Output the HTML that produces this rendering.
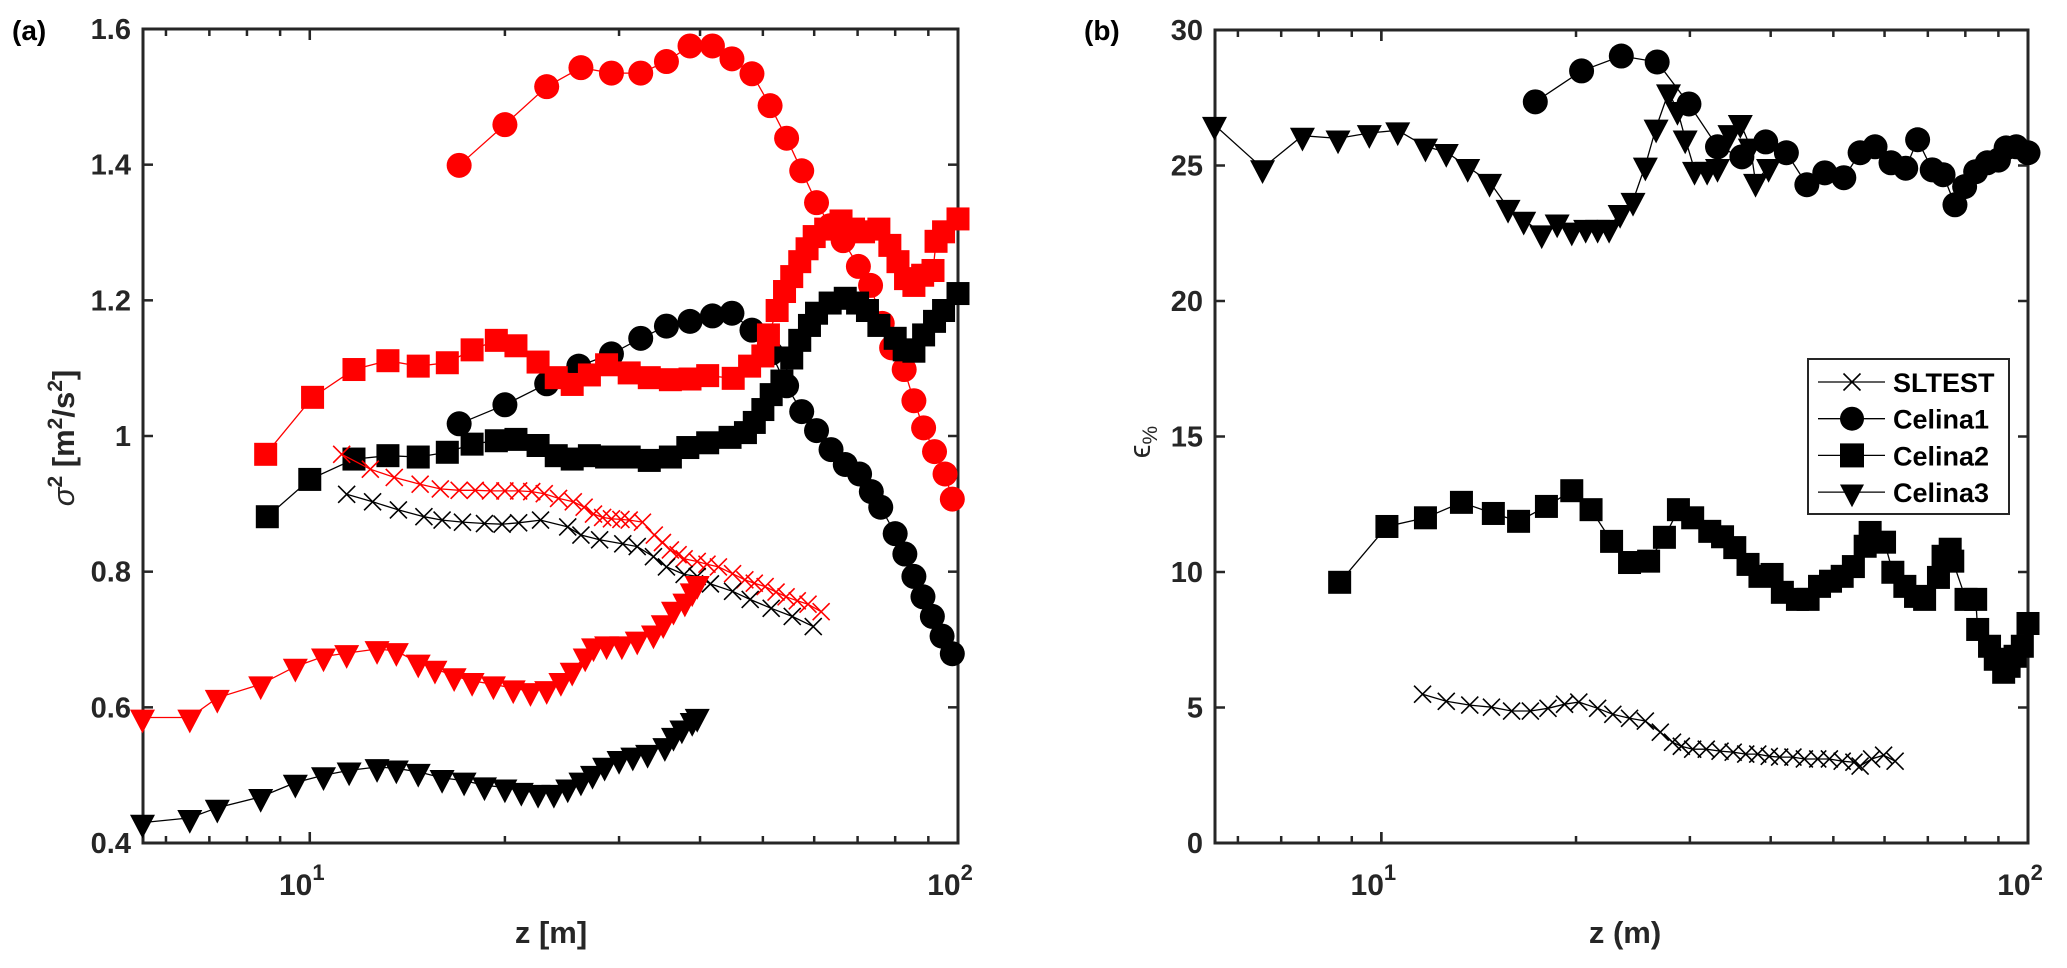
<!DOCTYPE html>
<html><head><meta charset="utf-8">
<style>
html,body{margin:0;padding:0;background:#fff;}
svg{display:block;font-family:"Liberation Sans",sans-serif;}
</style></head>
<body>
<svg id="fig" width="2067" height="968" viewBox="0 0 2067 968" xmlns="http://www.w3.org/2000/svg">
<g id="panelA"></g>
<g id="panelB"></g>
</svg>
<script>
// ---- Panel (a) data ----
const aRedCircZ = [17.0,20.0,23.2,26.2,29.2,32.4,35.5,38.6,41.8,44.8,48.1,51.3,54.4,57.4,60.5,63.5,66.5,70.2,73.3,76.4,79,82.6,85.5,88.5,92,95.5,98];
const aRedCircV = [1.399,1.459,1.515,1.543,1.535,1.535,1.552,1.575,1.575,1.556,1.534,1.487,1.439,1.391,1.344,1.31,1.288,1.250,1.222,1.166,1.13,1.098,1.052,1.012,0.977,0.944,0.907];
const aBlkCircZ = [17.0,20.0,23.2,26.0,29.2,32.4,35.5,38.6,41.8,44.8,48.1,51.5,54.4,57.4,60.5,63.7,67,70.5,73.5,76,80,82.8,85.5,88.3,91.3,94.5,98];
const aBlkCircV = [1.018,1.046,1.077,1.103,1.121,1.144,1.162,1.169,1.177,1.181,1.156,1.122,1.074,1.036,1.008,0.98,0.958,0.944,0.918,0.895,0.856,0.826,0.793,0.763,0.734,0.705,0.679];
const aRedSqZ = [8.55,10.1,11.7,13.2,14.7,16.3,17.8,19.4,20.8,22.5,24,25.4,27,28.7,31.1,33.4,36,38.6,41.1,45,47.7,50,51,52.6,54,55.4,57,58.5,60,62.5,66,69,71.5,75.5,78.5,80.8,83,85.5,88.2,91.5,92.5,95,100];
const aRedSqV = [0.973,1.057,1.098,1.111,1.103,1.108,1.127,1.141,1.133,1.109,1.086,1.076,1.090,1.105,1.093,1.086,1.083,1.084,1.089,1.085,1.103,1.118,1.149,1.185,1.213,1.235,1.257,1.276,1.294,1.305,1.317,1.305,1.301,1.305,1.281,1.257,1.232,1.222,1.237,1.244,1.287,1.301,1.320];
const aBlkSqZ = [8.6,10.0,11.7,13.2,14.7,16.3,17.8,19.4,20.8,22.5,24,25.4,27,28.7,31.1,33.4,36,38.3,41.1,44.5,47,48.5,50,51.5,53.5,55.4,57,59,60.5,63.5,67,70,72.5,75.5,80,82.6,85.5,88.5,92,95,100];
const aBlkSqV = [0.881,0.936,0.966,0.971,0.969,0.976,0.988,0.993,0.995,0.986,0.971,0.966,0.971,0.969,0.969,0.964,0.969,0.983,0.990,0.998,1.005,1.020,1.039,1.061,1.081,1.115,1.141,1.163,1.181,1.196,1.203,1.196,1.185,1.163,1.144,1.127,1.125,1.149,1.169,1.185,1.210];
const aRedXZ = [11.2,12.4,13.5,14.8,15.9,17,18,19,20,21,22,23,24.2,25.5,26.5,27.4,28.3,29.2,30.2,31.1,32.6,34,35,36,37,37.8,39.6,41,42.7,44.9,46.9,48.5,50.4,52.4,54.3,56.5,58.7,61.5];
const aRedXV = [0.973,0.951,0.939,0.929,0.922,0.920,0.920,0.919,0.919,0.919,0.918,0.915,0.908,0.903,0.895,0.885,0.880,0.878,0.877,0.876,0.873,0.854,0.843,0.832,0.825,0.819,0.815,0.811,0.807,0.797,0.788,0.783,0.778,0.770,0.763,0.757,0.752,0.741];
const aBlkXZ = [11.4,12.5,13.7,15,16,17.2,18.6,19.8,21,22.7,25,26.2,28,30.4,32,33.9,35.5,37.8,39.6,41.5,44.9,47.8,51.5,55.5,59.8];
const aBlkXV = [0.914,0.903,0.891,0.881,0.876,0.873,0.871,0.870,0.872,0.876,0.866,0.854,0.847,0.841,0.837,0.822,0.807,0.796,0.793,0.782,0.771,0.759,0.746,0.734,0.719];
const aRedTriZ = [5.52,6.53,7.2,8.4,9.5,10.5,11.4,12.7,13.6,14.7,15.6,16.7,17.8,19.2,20.6,21.9,23.2,24.4,25.4,26.6,27.4,28.7,30.3,32,33.9,35.1,36.4,37.9,38.9,39.6];
const aRedTriV = [0.585,0.585,0.614,0.634,0.660,0.675,0.680,0.686,0.683,0.666,0.657,0.646,0.639,0.634,0.628,0.624,0.627,0.639,0.654,0.675,0.690,0.693,0.693,0.700,0.709,0.724,0.744,0.756,0.771,0.782];
const aBlkTriZ = [5.52,6.53,7.2,8.4,9.5,10.5,11.5,12.7,13.6,14.7,16,17.3,18.6,20,21.2,22.5,23.8,25,26.2,27.3,28.5,30,31.5,33.2,35.3,36.4,37.5,38.9,39.6];
const aBlkTriV = [0.430,0.437,0.452,0.468,0.489,0.500,0.507,0.512,0.510,0.505,0.496,0.492,0.485,0.482,0.477,0.474,0.474,0.482,0.492,0.502,0.514,0.524,0.529,0.533,0.543,0.558,0.569,0.580,0.586];
const aYTicks = [0.4,0.6,0.8,1,1.2,1.4,1.6];
const aYTickLabels = ["0.4","0.6","0.8","1","1.2","1.4","1.6"];

// ---- Panel (b) data ----
const bC1Z = [17.3,20.4,23.5,26.7,29.9,33.1,36.1,39.3,42.3,45.5,48.5,51.9,55,58,61.4,64.7,67.5,71.1,73.9,77.1,79.8,83,86.5,90,92.5,95.9,100];
const bC1V = [27.35,28.49,29.04,28.82,27.27,25.69,25.32,25.87,25.47,24.29,24.73,24.55,25.47,25.69,25.1,24.9,25.95,24.84,24.66,23.55,24.22,24.77,25.10,25.2,25.65,25.69,25.47];
const bC3Z = [5.52,6.55,7.55,8.57,9.58,10.6,11.7,12.6,13.6,14.7,15.7,16.6,17.7,18.7,19.7,20.7,21.6,22.5,23.4,24.5,25.6,26.6,27.8,28.7,29.5,30.5,31.9,33.1,34.6,35.9,37.2,37.9,39.7];
const bC3V = [26.5,24.9,26.1,26.0,26.2,26.3,25.7,25.5,24.95,24.4,23.44,23.0,22.5,22.9,22.6,22.7,22.7,22.7,23.25,23.7,25.0,26.4,27.7,27.05,26.0,24.84,24.84,24.95,26.2,26.57,25.7,24.4,24.95];
const bC2Z = [8.62,10.2,11.7,13.3,14.9,16.3,18.0,19.7,21.1,22.7,24.2,25.9,27.4,28.8,30.3,32.2,33.7,35.2,36.9,38.5,40.2,41.7,44,45.7,47.6,49.5,51.6,53.7,56,57,60,61.8,64.5,67,69.2,72.7,73.9,75.8,76.5,80.2,83,83.6,87.2,89,91.7,93.5,95.5,98,100];
const bC2V = [9.62,11.68,12.0,12.57,12.16,11.87,12.42,13.0,12.3,11.13,10.35,10.4,11.28,12.3,12.0,11.5,11.3,10.9,10.28,9.84,9.91,9.25,8.99,8.99,9.47,9.66,9.84,10.2,10.95,11.46,11.1,9.99,9.47,9.1,8.99,9.8,10.58,10.84,10.4,8.99,8.99,7.88,7.26,6.78,6.3,6.52,6.89,7.26,8.1];
const bSLZ = [11.58,12.6,13.7,14.8,15.9,17.0,18.1,19.2,20.2,21.6,22.8,24.2,25.6,27,28.2,29.1,30.3,31.8,33.4,35,36.6,38.2,39.8,41.3,43.3,45.1,47.3,49.3,51.6,53.8,55,57.3,59.8,62.3];
const bSLV = [5.49,5.23,5.09,5.01,4.87,4.87,4.97,5.12,5.2,4.97,4.75,4.6,4.5,4.09,3.72,3.57,3.46,3.46,3.39,3.35,3.28,3.28,3.2,3.17,3.17,3.1,3.1,3.1,3.02,2.98,2.84,3.1,3.24,3.02];
const bYTicks = [0,5,10,15,20,25,30];
const bYTickLabels = ["0","5","10","15","20","25","30"];
const legendLabels = ["SLTEST","Celina1","Celina2","Celina3"];
const legendMarkers = ["x","circle","square","tri"];

const NS = "http://www.w3.org/2000/svg";
function mk(tag, attrs, parent){
  const e = document.createElementNS(NS, tag);
  for (const k in attrs) e.setAttribute(k, attrs[k]);
  parent.appendChild(e);
  return e;
}
const XMIN = 5.53, XMAX = 100;
function makeAxes(x0, x1, y0, y1, ymin, ymax){
  const lx0 = Math.log10(XMIN), lx1 = Math.log10(XMAX);
  return {
    x: z => x0 + (Math.log10(z) - lx0) / (lx1 - lx0) * (x1 - x0),
    y: v => y1 - (v - ymin) / (ymax - ymin) * (y1 - y0),
    x0, x1, y0, y1
  };
}
function marker(g, type, cx, cy, color, size){
  let m;
  if (type === "circle") m = mk("ellipse", {cx, cy, rx: size/2, ry: size/2, fill: color}, g);
  else if (type === "square") m = mk("rect", {x: cx-size/2, y: cy-size/2, width: size, height: size, fill: color}, g);
  else if (type === "tri") { const h = size*0.95, w = size; m = mk("polygon", {points: `${cx-w/2},${cy-h/3} ${cx+w/2},${cy-h/3} ${cx},${cy+2*h/3}`, fill: color}, g); }
  else { const s = size/2; m = mk("path", {d: `M${cx-s},${cy-s}L${cx+s},${cy+s}M${cx-s},${cy+s}L${cx+s},${cy-s}`, stroke: color, "stroke-width": 1.6, fill: "none"}, g); }
  return m;
}
function series(parent, ax, zs, vs, type, color, size, name){
  const g = mk("g", {}, parent);
  
  
  const pts = zs.map((z,i)=>`${ax.x(z).toFixed(1)},${ax.y(vs[i]).toFixed(1)}`).join(" ");
  const line = mk("polyline", {points: pts, fill: "none", stroke: color, "stroke-width": 1.3}, g);
  
  
  zs.forEach((z,i)=>{
    const m = marker(g, type, ax.x(z), ax.y(vs[i]), color, size);
    
    
  });
}
function frame(parent, ax, yticks, ylabels, tag){
  const col = "#262626";
  const g = mk("g", {}, parent);
  
  
  const box = mk("rect", {x: ax.x0, y: ax.y0, width: ax.x1-ax.x0, height: ax.y1-ax.y0, fill: "none", stroke: col, "stroke-width": 3}, g);
  
  
  for (let d of [1,10]) for (let k = 1; k <= 10; k++){
    const z = d*k; if (z < XMIN || z > XMAX) continue;
    const major = (k === 1 || k === 10);
    const L = major ? 11 : 7, X = ax.x(z);
    mk("line", {x1: X, y1: ax.y1, x2: X, y2: ax.y1-L, stroke: col, "stroke-width": 2.5}, g);
    mk("line", {x1: X, y1: ax.y0, x2: X, y2: ax.y0+L, stroke: col, "stroke-width": 2.5}, g);
  }
  [[10,"1"],[100,"2"]].forEach(([z,e])=>{
    const t = mk("text", {x: ax.x(z)-8, y: ax.y1+52, "font-size": 30, "font-weight": "bold", fill: col, "text-anchor": "middle"}, g);
    t.textContent = "10";
    const s = mk("tspan", {dy: -15, "font-size": 22}, t); s.textContent = e;
    
    
  });
  yticks.forEach((v,i)=>{
    const Y = ax.y(v);
    mk("line", {x1: ax.x0, y1: Y, x2: ax.x0+10, y2: Y, stroke: col, "stroke-width": 2.5}, g);
    mk("line", {x1: ax.x1, y1: Y, x2: ax.x1-10, y2: Y, stroke: col, "stroke-width": 2.5}, g);
    const t = mk("text", {x: ax.x0-12, y: Y+10, "font-size": 29, "font-weight": "bold", fill: col, "text-anchor": "end"}, g);
    t.textContent = ylabels[i];
    
    
  });
}

const pA = document.getElementById("panelA");
const axA = makeAxes(143, 958, 29, 843, 0.4, 1.6);
frame(pA, axA, aYTicks, aYTickLabels, "panel-a");
const RED = "#ff0000", BLK = "#000000";
series(pA, axA, aRedCircZ, aRedCircV, "circle", RED, 25, "celina1-red-series");
series(pA, axA, aBlkCircZ, aBlkCircV, "circle", BLK, 25, "celina1-black-series");
series(pA, axA, aRedSqZ, aRedSqV, "square", RED, 23, "celina2-red-series");
series(pA, axA, aBlkSqZ, aBlkSqV, "square", BLK, 23, "celina2-black-series");
series(pA, axA, aRedXZ, aRedXV, "x", RED, 17, "sltest-red-series");
series(pA, axA, aBlkXZ, aBlkXV, "x", BLK, 17, "sltest-black-series");
series(pA, axA, aRedTriZ, aRedTriV, "tri", RED, 25, "celina3-red-series");
series(pA, axA, aBlkTriZ, aBlkTriV, "tri", BLK, 25, "celina3-black-series");

const pB = document.getElementById("panelB");
const axB = makeAxes(1215, 2028, 30, 843, 0, 30);
frame(pB, axB, bYTicks, bYTickLabels, "panel-b");
series(pB, axB, bC1Z, bC1V, "circle", BLK, 25, "celina1-series");
series(pB, axB, bC3Z, bC3V, "tri", BLK, 25, "celina3-series");
series(pB, axB, bC2Z, bC2V, "square", BLK, 23, "celina2-series");
series(pB, axB, bSLZ, bSLV, "x", BLK, 17, "sltest-series");

const lg = mk("g", {}, pB);


mk("rect", {x: 1808, y: 359, width: 201, height: 155, fill: "#fff", stroke: "#262626", "stroke-width": 2}, lg);
legendLabels.forEach((lab,i)=>{
  const Y = 382 + i*36.7;
  const e = mk("g", {}, lg);
  
  
  mk("line", {x1: 1818, y1: Y, x2: 1885, y2: Y, stroke: "#000", "stroke-width": 1.3}, e);
  marker(e, legendMarkers[i], 1852, Y, "#000", legendMarkers[i]==="x" ? 17 : 24);
  const t = mk("text", {x: 1893, y: Y+10, "font-size": 27, "font-weight": "bold", fill: "#000"}, e);
  t.textContent = lab;
});
</script>
<svg width="2067" height="968" style="position:absolute;left:0;top:0;font-family:'Liberation Sans',sans-serif;" xmlns="http://www.w3.org/2000/svg">
<text x="12" y="40" font-size="28" font-weight="bold" fill="#000">(a)</text>
<text x="1084" y="40" font-size="28" font-weight="bold" fill="#000">(b)</text>
<text x="551" y="943" font-size="31" font-weight="bold" fill="#262626" text-anchor="middle">z [m]</text>
<text x="1625" y="943" font-size="31" font-weight="bold" fill="#262626" text-anchor="middle">z (m)</text>
<text transform="translate(74,438) rotate(-90)" font-size="31" font-weight="bold" fill="#262626" text-anchor="middle"><tspan font-style="italic" font-weight="normal">σ</tspan><tspan dy="-12" font-size="21">2</tspan><tspan dy="12"> [m</tspan><tspan dy="-12" font-size="21">2</tspan><tspan dy="12">/s</tspan><tspan dy="-12" font-size="21">2</tspan><tspan dy="12">]</tspan></text>
<text transform="translate(1150,442) rotate(-90)" font-size="31" fill="#262626" text-anchor="middle">ϵ<tspan dy="7" font-size="21">%</tspan></text>
</svg>
</body></html>
